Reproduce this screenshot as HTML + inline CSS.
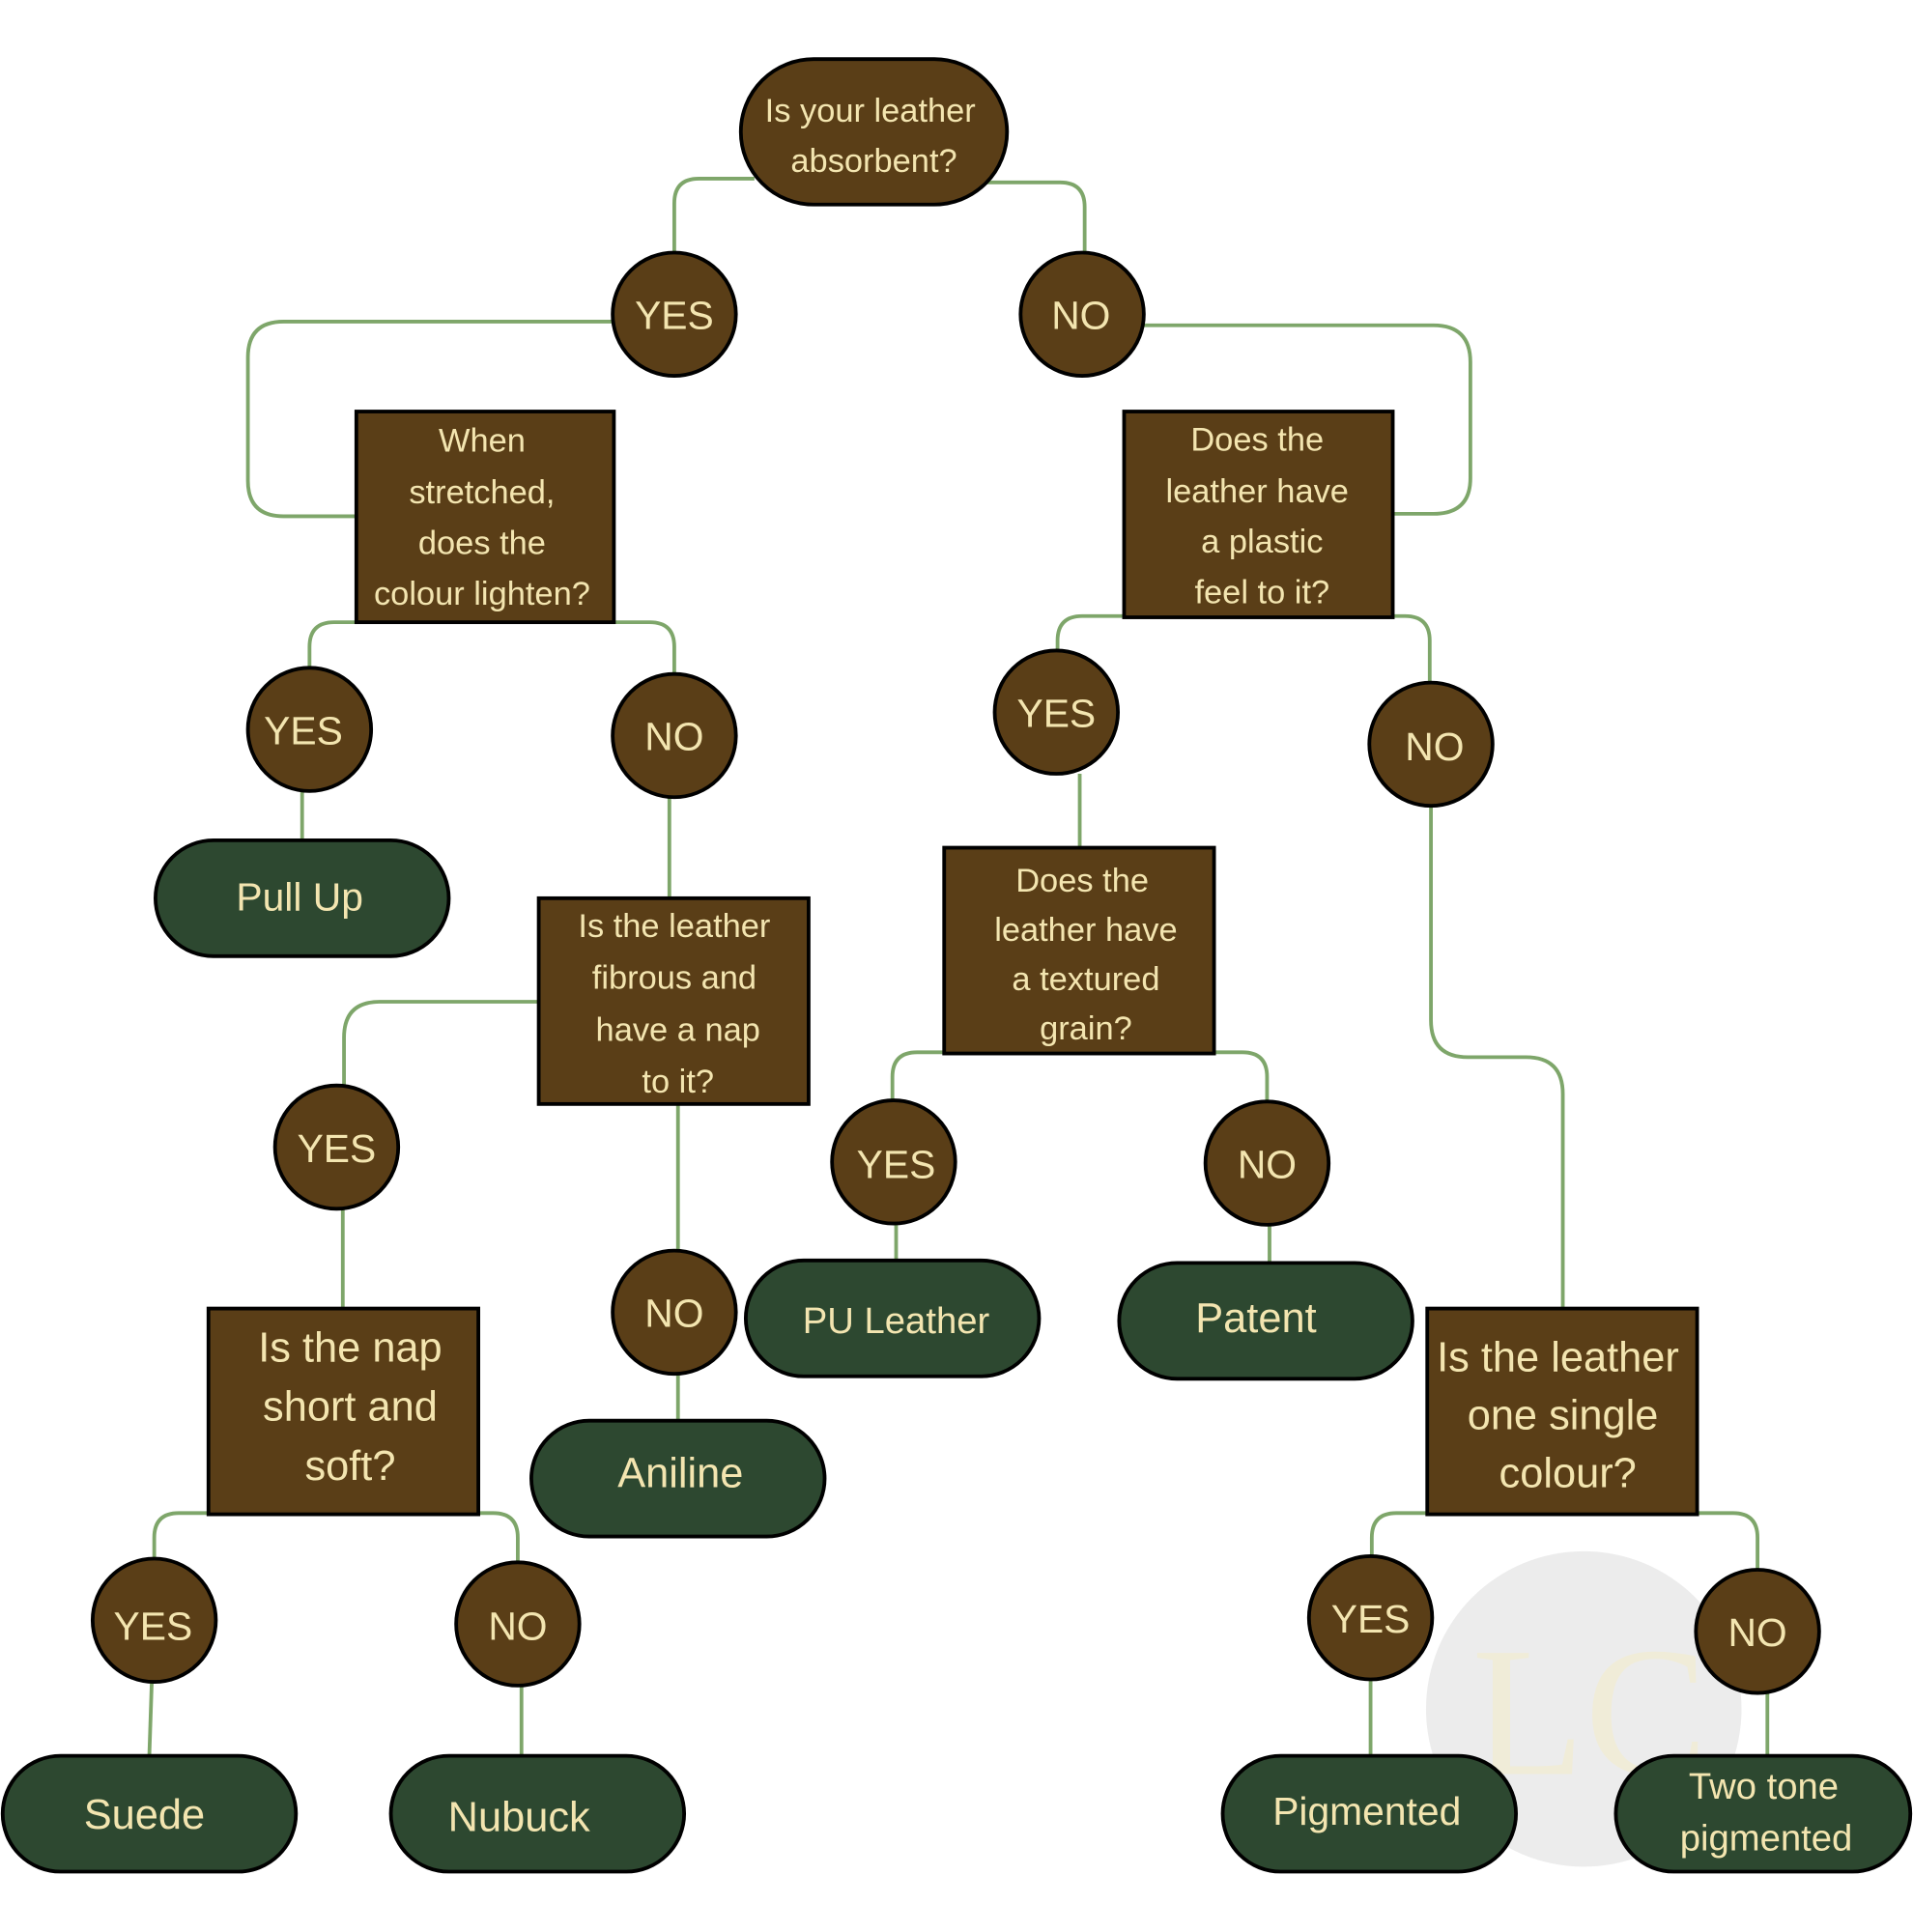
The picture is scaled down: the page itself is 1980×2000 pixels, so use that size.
<!DOCTYPE html>
<html><head><meta charset="utf-8"><style>
html,body{margin:0;padding:0;background:#fff;}
svg{display:block;}
text{font-family:"Liberation Sans",sans-serif;fill:#f3e5b0;text-anchor:middle;dominant-baseline:central;}
</style></head><body>
<svg width="1980" height="2000" viewBox="0 0 1552 1568" xmlns="http://www.w3.org/2000/svg">
<rect width="1552" height="1568" fill="#fff"/>
<circle cx="1285" cy="1387" r="128" fill="#ececec"/>
<text x="1290" y="1390" style="font-family:'Liberation Serif',serif;font-size:150px;fill:#f0ecd8">LC</text>
<g fill="none" stroke="#7ea66a" stroke-width="3">
<path d="M612,145 H567 Q547,145 547,165 V205"/>
<path d="M800,148 H860 Q880,148 880,168 V205"/>
<path d="M497,261 H230 Q201,261 201,290 V390 Q201,419 230,419 H289"/>
<path d="M289,505 H271 Q251,505 251,525 V543"/>
<path d="M245,642 V682"/>
<path d="M490,505 H527 Q547,505 547,525 V548"/>
<path d="M543,647 V729"/>
<path d="M437,813 H308 Q279,813 279,842 V882"/>
<path d="M278,981 V1062"/>
<path d="M550,896 V1016"/>
<path d="M550,1115 V1153"/>
<path d="M169,1228 H145 Q125,1228 125,1248 V1268"/>
<path d="M123,1365 L121,1425"/>
<path d="M388,1228 H400 Q420,1228 420,1248 V1270"/>
<path d="M423,1368 V1425"/>
<path d="M928,264 H1163 Q1193,264 1193,294 V388 Q1193,417 1163,417 H1130"/>
<path d="M912,500 H878 Q858,500 858,520 V530"/>
<path d="M876,628 V688"/>
<path d="M766,854 H744 Q724,854 724,874 V893"/>
<path d="M727,993 V1023"/>
<path d="M978,854 H1008 Q1028,854 1028,874 V895"/>
<path d="M1030,994 V1025"/>
<path d="M1130,500 H1140 Q1160,500 1160,520 V555"/>
<path d="M1161,654 V828 Q1161,858 1191,858 H1238 Q1268,858 1268,888 V1062"/>
<path d="M1158,1228 H1133 Q1113,1228 1113,1248 V1265"/>
<path d="M1112,1363 V1425"/>
<path d="M1377,1228 H1406 Q1426,1228 1426,1248 V1275"/>
<path d="M1434,1374 V1425"/>
</g>
<g stroke="#000" stroke-width="3">
<rect x="601" y="48" width="216" height="118" rx="59" fill="#5a3e17"/>
<g fill="#5a3e17">
<circle cx="547" cy="255" r="50"/><circle cx="878" cy="255" r="50"/>
<circle cx="251" cy="592" r="50"/><circle cx="547" cy="597" r="50"/>
<circle cx="273" cy="931" r="50"/><circle cx="547" cy="1065" r="50"/>
<circle cx="125" cy="1315" r="50"/><circle cx="420" cy="1318" r="50"/>
<circle cx="857" cy="578" r="50"/><circle cx="1161" cy="604" r="50"/>
<circle cx="725" cy="943" r="50"/><circle cx="1028" cy="944" r="50"/>
<circle cx="1112" cy="1313" r="50"/><circle cx="1426" cy="1324" r="50"/>
<rect x="289" y="334" width="209" height="171"/>
<rect x="437" y="729" width="219" height="167"/>
<rect x="169" y="1062" width="219" height="167"/>
<rect x="912" y="334" width="218" height="167"/>
<rect x="766" y="688" width="219" height="167"/>
<rect x="1158" y="1062" width="219" height="167"/>
</g>
<g fill="#2d4830">
<rect x="126" y="682" width="238" height="94" rx="47"/>
<rect x="431" y="1153" width="238" height="94" rx="47"/>
<rect x="2" y="1425" width="238" height="94" rx="47"/>
<rect x="317" y="1425" width="238" height="94" rx="47"/>
<rect x="605" y="1023" width="238" height="94" rx="47"/>
<rect x="908" y="1025" width="238" height="94" rx="47"/>
<rect x="992" y="1425" width="238" height="94" rx="47"/>
<rect x="1311" y="1425" width="239" height="94" rx="47"/>
</g>
</g>
<g font-size="27">
<text x="706" y="90">Is your leather</text><text x="709" y="131">absorbent?</text>
<text x="391" y="358">When</text><text x="391" y="400">stretched,</text><text x="391" y="441">does the</text><text x="391" y="482">colour lighten?</text>
<text x="547" y="752">Is the leather</text><text x="547" y="794">fibrous and</text><text x="550" y="836">have a nap</text><text x="550" y="878">to it?</text>
<text x="1020" y="357">Does the</text><text x="1020" y="399">leather have</text><text x="1024" y="440">a plastic</text><text x="1024" y="481">feel to it?</text>
<text x="878" y="715">Does the</text><text x="881" y="755">leather have</text><text x="881" y="795">a textured</text><text x="881" y="835">grain?</text>
</g>
<g font-size="34">
<text x="284" y="1094">Is the nap</text><text x="284" y="1142">short and</text><text x="284" y="1190">soft?</text>
<text x="1264" y="1102">Is the leather</text><text x="1268" y="1149">one single</text><text x="1272" y="1196">colour?</text>
</g>
<g font-size="32">
<text x="547" y="256">YES</text><text x="877" y="256">NO</text>
<text x="246" y="593">YES</text><text x="547" y="598">NO</text>
<text x="273" y="932">YES</text><text x="547" y="1066">NO</text>
<text x="124" y="1320">YES</text><text x="420" y="1320">NO</text>
<text x="857" y="579">YES</text><text x="1164" y="606">NO</text>
<text x="727" y="945">YES</text><text x="1028" y="945">NO</text>
<text x="1112" y="1314">YES</text><text x="1426" y="1325">NO</text>
<text x="243" y="728">Pull Up</text>
<text x="552" y="1196" font-size="34">Aniline</text>
<text x="117" y="1473" font-size="34">Suede</text>
<text x="421" y="1475" font-size="34">Nubuck</text>
<text x="727" y="1072" font-size="30">PU Leather</text>
<text x="1019" y="1070" font-size="34">Patent</text>
<text x="1109" y="1470">Pigmented</text>
<text x="1431" y="1450" font-size="30">Two tone</text><text x="1433" y="1492" font-size="30">pigmented</text>
</g>
</svg>
</body></html>
